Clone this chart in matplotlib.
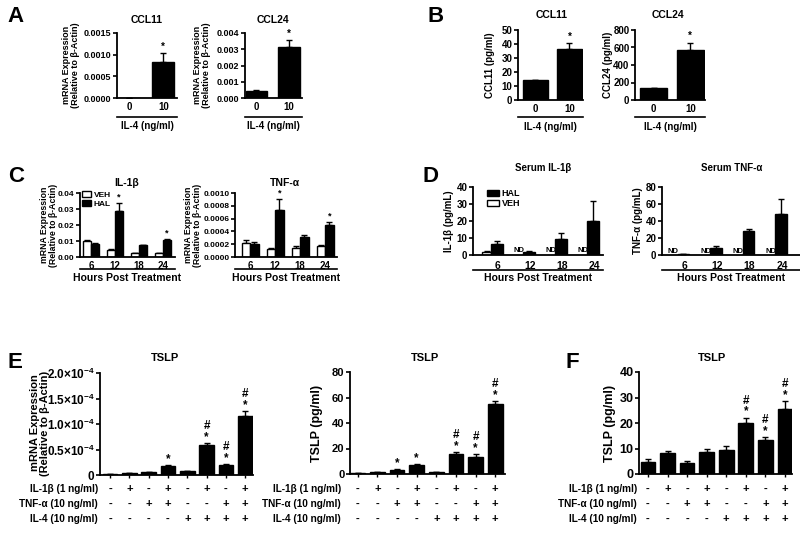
import numpy as np
import matplotlib
matplotlib.use('Agg')
import matplotlib.pyplot as plt
from matplotlib.lines import Line2D
from matplotlib.patches import Patch

plt.rcParams['font.family'] = ['Liberation Sans', 'DejaVu Sans']
plt.rcParams['font.weight'] = 'bold'
plt.rcParams['axes.linewidth'] = 1.3
plt.rcParams['mathtext.fontset'] = 'custom'
plt.rcParams['mathtext.rm'] = 'Liberation Sans:bold'
plt.rcParams['mathtext.bf'] = 'Liberation Sans:bold'
plt.rcParams['mathtext.it'] = 'Liberation Sans:bold'

# ---- data ----
doses = ['0', '10']
a_ccl11 = [0.0, 0.00082]
a_ccl11_err = [0.0, 0.00022]
a_ccl24 = [0.00045, 0.00314]
a_ccl24_err = [0.00002, 0.0004]
b_ccl11 = [14.2, 36.4]
b_ccl11_err = [0.3, 4.1]
b_ccl24 = [133, 571]
b_ccl24_err = [4, 84]

hours = ['6', '12', '18', '24']
c_il1b_veh = [0.0100, 0.0046, 0.0025, 0.0025]
c_il1b_veh_err = [0.0007, 0.0003, 0.0002, 0.0001]
c_il1b_hal = [0.0083, 0.0285, 0.0072, 0.0108]
c_il1b_hal_err = [0.0005, 0.0055, 0.0004, 0.0007]
c_tnf_veh = [0.000225, 0.000128, 0.000145, 0.00017]
c_tnf_veh_err = [0.00004, 0.00001, 0.00003, 0.00002]
c_tnf_hal = [0.0002, 0.00073, 0.000305, 0.0005]
c_tnf_hal_err = [0.00004, 0.00018, 0.00004, 0.00005]
c_stars = [1, 3]

d_il1b_veh = [1.9, np.nan, np.nan, np.nan]
d_il1b_veh_err = [0.7, 0, 0, 0]
d_il1b_hal = [6.4, 2.0, 9.7, 20.1]
d_il1b_hal_err = [2.0, 0.5, 3.0, 11.5]
d_tnf_veh = [np.nan, np.nan, np.nan, np.nan]
d_tnf_hal = [0.8, 7.9, 28.5, 48.3]
d_tnf_hal_err = [0.4, 2.8, 2.0, 17.0]

il1b_row = ['-', '+', '-', '+', '-', '+', '-', '+']
tnf_row = ['-', '-', '+', '+', '-', '-', '+', '+']
il4_row = ['-', '-', '-', '-', '+', '+', '+', '+']
row_names = ['IL-1β (1 ng/ml)', 'TNF-α (10 ng/ml)', 'IL-4 (10 ng/ml)']

e_mrna = [0.02e-4, 0.035e-4, 0.055e-4, 0.17e-4, 0.07e-4, 0.58e-4, 0.2e-4, 1.15e-4]
e_mrna_err = [0.003e-4, 0.004e-4, 0.005e-4, 0.03e-4, 0.005e-4, 0.05e-4, 0.02e-4, 0.1e-4]
e_mrna_sig = ['', '', '', '*', '', '#\n*', '#\n*', '#\n*']
e_prot = [0.5, 1.2, 3.1, 7.0, 1.4, 15.6, 13.3, 54.7]
e_prot_err = [0.2, 0.3, 0.8, 0.8, 0.3, 1.5, 2.5, 2.6]
e_prot_sig = ['', '', '*', '*', '', '#\n*', '#\n*', '#\n*']
f_prot = [4.6, 8.1, 4.3, 8.7, 9.4, 20.1, 13.5, 25.4]
f_prot_err = [1.3, 0.9, 0.9, 1.1, 1.7, 2.0, 1.1, 3.1]
f_prot_sig = ['', '', '', '', '', '#\n*', '#\n*', '#\n*']

# ---- layout helpers (pixel coordinates, origin top-left) ----
W, H = 800, 535
fig = plt.figure(figsize=(8, 5.35), dpi=100)


def add_ax(x0, y0, x1, y1):
    return fig.add_axes([x0 / W, 1 - y1 / H, (x1 - x0) / W, (y1 - y0) / H])


def ftext(x, y, s, **kw):
    kw.setdefault('ha', 'center')
    kw.setdefault('va', 'center')
    fig.text(x / W, 1 - y / H, s, **kw)


def hline(x0, x1, y):
    fig.add_artist(Line2D([x0 / W, x1 / W], [1 - y / H, 1 - y / H], color='k', lw=1.2))


def style(ax, ysize=6.5, xsize=7):
    for sp in ['top', 'right']:
        ax.spines[sp].set_visible(False)
    ax.tick_params(axis='y', direction='out', length=3, width=1.2, labelsize=ysize, pad=1)
    ax.tick_params(axis='x', length=0, labelsize=xsize, pad=3)


def bars(ax, x, y, err, color='k', width=0.7):
    x = np.asarray(x, float)
    y = np.asarray(y, float)
    err = np.asarray(err, float)
    ok = ~np.isnan(y)
    ax.bar(x[ok], y[ok], width=width, color=color, edgecolor='k', linewidth=1, zorder=2)
    ax.errorbar(x[ok], y[ok], yerr=[np.zeros(ok.sum()), err[ok]], fmt='none',
                ecolor='k', elinewidth=1, capsize=2.5, capthick=1, zorder=1)


def mark(ax, x, top, s, fs=7, off=1):
    ax.annotate(s, (x, top), xytext=(0, off), textcoords='offset points',
                ha='center', va='bottom', fontsize=fs, linespacing=0.9)


# ---- A ----
for box, vals, errs, yl, yt, fmt, title, tx in [
        ((117, 33, 177, 98), a_ccl11, a_ccl11_err, 0.0015, np.arange(0, 0.0016, 0.0005), '%.4f', 'CCL11', 147),
        ((245, 33, 302, 98), a_ccl24, a_ccl24_err, 0.004, np.arange(0, 0.0041, 0.001), '%.3f', 'CCL24', 273)]:
    ax = add_ax(*box)
    style(ax)
    bars(ax, [0, 1], vals, errs, width=0.65)
    mark(ax, 1, vals[1] + errs[1], '*', fs=7)
    ax.set_xlim(-0.35, 1.4)
    ax.set_ylim(0, yl)
    ax.set_yticks(yt)
    ax.set_yticklabels([fmt % v for v in yt])
    ax.set_xticks([0, 1])
    ax.set_xticklabels(doses)
    ftext(tx, 20, title, fontsize=7.5)
    hline(box[0], box[2], 117)
    ftext(tx, 126, 'IL-4 (ng/ml)', fontsize=7)
ftext(71, 65, 'mRNA Expression\n(Relative to β-Actin)', fontsize=6.5, rotation=90, linespacing=1.0)
ftext(202, 65, 'mRNA Expression\n(Relative to β-Actin)', fontsize=6.5, rotation=90, linespacing=1.0)

# ---- B ----
for box, vals, errs, yl, step, title, tx, ylab, lx in [
        ((518, 30, 583, 100), b_ccl11, b_ccl11_err, 50, 10, 'CCL11', 552, 'CCL11 (pg/ml)', 490),
        ((635, 30, 705, 100), b_ccl24, b_ccl24_err, 800, 200, 'CCL24', 668, 'CCL24 (pg/ml)', 608)]:
    ax = add_ax(*box)
    style(ax, ysize=7, xsize=7)
    bars(ax, [0, 1], vals, errs, width=0.72)
    mark(ax, 1, vals[1] + errs[1], '*', fs=7)
    ax.set_xlim(-0.51, 1.4)
    ax.set_ylim(0, yl)
    ax.set_yticks(np.arange(0, yl + 1, step))
    ax.set_xticks([0, 1])
    ax.set_xticklabels(doses)
    ftext(tx, 15, title, fontsize=7.5)
    hline(box[0], box[2], 117)
    ftext((box[0] + box[2]) / 2, 127, 'IL-4 (ng/ml)', fontsize=7)
    ftext(lx, 65, ylab, fontsize=7, rotation=90)

# ---- C ----
g = np.arange(4)
for box, veh, veh_e, hal, hal_e, yl, step, fmt, title, tx, lx, xl in [
        ((80, 193, 175, 257), c_il1b_veh, c_il1b_veh_err, c_il1b_hal, c_il1b_hal_err,
         0.04, 0.01, '%.2f', 'IL-1β', 127, 49, (-0.46, 3.5)),
        ((235, 193, 337, 257), c_tnf_veh, c_tnf_veh_err, c_tnf_hal, c_tnf_hal_err,
         0.001, 0.0002, '%.4f', 'TNF-α', 285, 193, (-0.6, 3.48))]:
    ax = add_ax(*box)
    style(ax, ysize=6)
    bars(ax, g - 0.17, veh, veh_e, color='white', width=0.34)
    bars(ax, g + 0.17, hal, hal_e, color='k', width=0.34)
    for i in c_stars:
        mark(ax, i + 0.17, hal[i] + hal_e[i], '*', fs=6.5)
    ax.set_xlim(*xl)
    ax.set_ylim(0, yl)
    yt = np.arange(0, yl + step / 2, step)
    ax.set_yticks(yt)
    ax.set_yticklabels([fmt % v for v in yt])
    ax.set_xticks(g)
    ax.set_xticklabels(hours)
    ftext(tx, 183, title, fontsize=7.5)
    hline(box[0], box[2], 269)
    ftext((box[0] + box[2]) / 2, 278, 'Hours Post Treatment', fontsize=7.5)
    ftext(lx, 225, 'mRNA Expression\n(Relative to β-Actin)', fontsize=6.3, rotation=90, linespacing=1.0)
    if title == 'IL-1β':
        ax.legend(handles=[Patch(facecolor='white', edgecolor='k', label='VEH'),
                           Patch(facecolor='k', edgecolor='k', label='HAL')],
                  loc='upper left', bbox_to_anchor=(82 / W, 1 - 191 / H), bbox_transform=fig.transFigure,
                  frameon=False, fontsize=6, handlelength=1.1, handleheight=0.7,
                  handletextpad=0.3, labelspacing=0.1, borderaxespad=0, borderpad=0)

# ---- D ----
for box, veh, veh_e, hal, hal_e, yl, step, title, tx, ylab, lx, xl in [
        ((473, 187, 603, 255), d_il1b_veh, d_il1b_veh_err, d_il1b_hal, d_il1b_hal_err,
         40, 10, 'Serum IL-1β', 543, 'IL-1β (pg/mL)', 449, (-0.58, 3.48)),
        ((662, 187, 800, 255), d_tnf_veh, [0] * 4, d_tnf_hal, d_tnf_hal_err,
         80, 20, 'Serum TNF-α', 732, 'TNF-α (pg/mL)', 638, (-0.49, 3.75))]:
    ax = add_ax(*box)
    style(ax, ysize=7, xsize=7.5)
    bars(ax, g - 0.15, veh, veh_e, color='white', width=0.28)
    bars(ax, g + 0.17, hal, hal_e, color='k', width=0.36)
    for i in g:
        if np.isnan(veh[i]):
            ax.text(i - 0.15, 0.5, 'ND', ha='center', va='bottom', fontsize=5.5)
    ax.set_xlim(*xl)
    ax.set_ylim(0, yl)
    ax.set_yticks(np.arange(0, yl + 1, step))
    ax.set_xticks(g + 0.2)
    ax.set_xticklabels(hours)
    ax.tick_params(axis='x', pad=4)
    ftext(tx, 168, title, fontsize=7)
    hline(box[0], box[2], 270)
    ftext((box[0] + box[2]) / 2, 278, 'Hours Post Treatment', fontsize=7.5)
    ftext(lx, 221, ylab, fontsize=7, rotation=90)
    if title == 'Serum IL-1β':
        ax.legend(handles=[Patch(facecolor='k', edgecolor='k', label='HAL'),
                           Patch(facecolor='white', edgecolor='k', label='VEH')],
                  loc='upper left', bbox_to_anchor=(487 / W, 1 - 189 / H), bbox_transform=fig.transFigure,
                  frameon=False, fontsize=6.5, handlelength=1.3, handleheight=0.7,
                  handletextpad=0.3, labelspacing=0.1, borderaxespad=0, borderpad=0)

# ---- E / F ----
x8 = np.arange(8)
rows = [il1b_row, tnf_row, il4_row]
row_y = [489, 504, 519]
panels = [
    ((100, 373, 253, 475), e_mrna, e_mrna_err, e_mrna_sig, 2e-4, 0.5e-4, (-0.52, 7.4), 165, 98, 8.5),
    ((350, 372, 505, 474), e_prot, e_prot_err, e_prot_sig, 80, 20, (-0.4, 7.5), 425, 341, 8),
    ((639, 372, 792, 474), f_prot, f_prot_err, f_prot_sig, 40, 10, (-0.46, 7.36), 712, 637, 9),
]
for box, vals, errs, sig, yl, step, xl, tx, rx, ys in panels:
    ax = add_ax(*box)
    style(ax, ysize=ys)
    ax.tick_params(axis='x', length=2.5, width=1, labelbottom=False)
    bars(ax, x8, vals, errs, width=0.75)
    for i in x8:
        if sig[i]:
            mark(ax, i, vals[i] + errs[i], sig[i], fs=8.5, off=0)
    ax.set_xlim(*xl)
    ax.set_ylim(0, yl)
    ax.set_xticks(x8)
    yt = np.arange(0, yl + step / 2, step)
    ax.set_yticks(yt)
    if yl < 1:
        ax.set_yticklabels(['0'] + ['%.1f×10$^{-4}$' % (v * 1e4) for v in yt[1:]])
    ftext(tx, 358, 'TSLP', fontsize=8)
    x_px = box[0] + (x8 - xl[0]) / (xl[1] - xl[0]) * (box[2] - box[0])
    for row, yy, name in zip(rows, row_y, row_names):
        ftext(rx, yy, name, ha='right', fontsize=7.2)
        for xp, s in zip(x_px, row):
            ftext(xp, yy, s, fontsize=8)

ftext(40, 423, 'mRNA Expression\n(Relative to β-Actin)', fontsize=8, rotation=90, linespacing=1.0)
ftext(317, 423, 'TSLP (pg/ml)', fontsize=9, rotation=90)
ftext(610, 423, 'TSLP (pg/ml)', fontsize=9, rotation=90)

# ---- panel letters ----
for s, x, y in [('A', 15, 17), ('B', 436, 17), ('C', 16, 176), ('D', 430, 176), ('E', 15, 362), ('F', 572, 362)]:
    ftext(x, y, s, fontsize=16)

fig.savefig('out.png', dpi=100)
